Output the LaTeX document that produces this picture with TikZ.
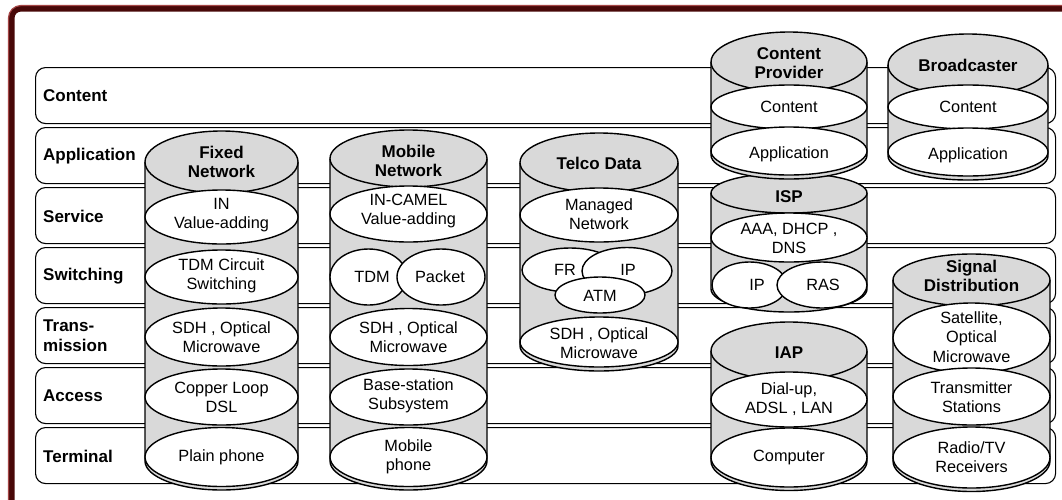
\documentclass[tikz,border=0pt]{standalone}
\usepackage{fontspec}
\setmainfont{Liberation Sans}
\definecolor{framedark}{RGB}{72,8,8}
\definecolor{framelight}{RGB}{165,70,70}
\definecolor{cylgray}{RGB}{217,217,217}
\newcommand\cylbody[6]{%
  \path[fill=cylgray, draw=black, line width=1.4pt] (#1-#2,#3) -- (#1-#2,#5) arc[start angle=180,end angle=0,x radius=#2,y radius=#6] -- (#1+#2,#3);
  \path[fill=cylgray, draw=black, line width=1.4pt] (#1,#3) ellipse[x radius=#2, y radius=#4];
}
\newcommand\wel[4]{\path[fill=white, draw=black, line width=1.4pt] (#1,#2) ellipse[x radius=#3, y radius=#4];}
\begin{document}
\begin{tikzpicture}[x=1pt,y=-1pt,
  layer/.style={draw=black, line width=1.1pt, fill=white, rounded corners=10pt, minimum width=1020pt, minimum height=56pt, anchor=north west, inner sep=0pt},
  rowlabel/.style={anchor=west, font=\fontsize{17}{20}\selectfont\bfseries, align=left, inner sep=0pt},
  ttl/.style={font=\fontsize{17}{19.5}\selectfont\bfseries, align=center, inner sep=0pt},
  itm/.style={font=\fontsize{16.3}{19}\selectfont, align=center, inner sep=0pt},
]
\useasboundingbox (0,0) rectangle (1062,499);
\fill[white] (0,0) rectangle (1062,499);
% frame
\draw[framedark, line width=6pt] (11.5,510) -- (11.5,18) arc[start angle=180, end angle=270, radius=9.5] -- (1075,8.5);
\draw[framelight, line width=1.2pt] (8.5,510) -- (8.5,18) arc[start angle=180, end angle=270, radius=12.5] -- (1075,5.5);
% layers
\node[layer] (rowA) at (35,67) {};
\node[layer] (rowB) at (35,127) {};
\node[layer] (rowC) at (35,187) {};
\node[layer] (rowD) at (35,247) {};
\node[layer] (rowE) at (35,307) {};
\node[layer] (rowF) at (35,367) {};
\node[layer] (rowG) at (35,427) {};
\node[rowlabel] (labA) at (43,96) {Content};
\node[rowlabel] (labB) at (43,156) {Application};
\node[rowlabel] (labC) at (43,216) {Service};
\node[rowlabel] (labD) at (43,276) {Switching};
\node[rowlabel] (labE) at (43,336) {Trans-\\mission};
\node[rowlabel] (labF) at (43,396) {Access};
\node[rowlabel] (labG) at (43,456) {Terminal};
% Fixed network
\cylbody{221.5}{76.5}{162}{31}{461}{29}
\wel{221.5}{217}{76.5}{27}
\wel{221.5}{277}{76.5}{27}
\wel{221.5}{337}{76.5}{29}
\wel{221.5}{397}{76.5}{28}
\wel{221.5}{457}{76.5}{29.5}
\node[ttl] (fixT) at (221.5,162) {Fixed\\Network};
\node[itm] (fix1) at (221.5,215) {IN\\Value-adding};
\node[itm] (fix2) at (221.5,276) {TDM Circuit\\Switching};
\node[itm] (fix3) at (221.5,337) {SDH , Optical\\Microwave};
\node[itm] (fix4) at (221.5,397) {Copper Loop\\DSL};
\node[itm] (fix5) at (221.5,457) {Plain phone};
% Mobile network
\cylbody{408.5}{78.5}{158.5}{28.5}{461}{29}
\wel{408.5}{214}{78.5}{28}
\wel{368.5}{277}{38.5}{28}
\wel{441}{277}{44}{28}
\wel{408.5}{337}{78.5}{28.5}
\wel{408.5}{397}{78.5}{28}
\wel{408.5}{457}{78.5}{29.5}
\node[ttl] (mobT) at (408.5,161) {Mobile\\Network};
\node[itm] (mob1) at (408.5,211) {IN-CAMEL\\Value-adding};
\node[itm] (mob2a) at (372,277) {TDM};
\node[itm] (mob2b) at (440,277) {Packet};
\node[itm] (mob3) at (408.5,337) {SDH , Optical\\Microwave};
\node[itm] (mob4) at (408.5,396) {Base-station\\Subsystem};
\node[itm] (mob5) at (408.5,457) {Mobile\\phone};
% Telco data
\cylbody{599}{79}{162.5}{29.5}{346}{25}
\wel{599}{215}{79}{27}
\wel{570}{270}{48}{22}
\wel{627}{271}{45}{23.5}
\wel{600}{295}{45}{18}
\wel{599}{342}{79}{25}
\node[ttl] (telT) at (599,163) {Telco Data};
\node[itm] (tel1) at (599,214) {Managed\\Network};
\node[itm] (tel2a) at (565,270) {FR};
\node[itm] (tel2b) at (628,270) {IP};
\node[itm] (tel2c) at (600,296) {ATM};
\node[itm] (tel3) at (599,343) {SDH , Optical\\Microwave};
% ISP
\cylbody{789}{78}{193}{20}{289}{23}
\wel{789}{237.5}{78}{24.5}
\wel{749.5}{285}{37.5}{23}
\wel{822}{285}{45}{23}
\node[ttl] (ispT) at (789,197) {ISP};
\node[itm] (isp1) at (789,238) {AAA, DHCP ,\\DNS};
\node[itm] (isp2a) at (757,285) {IP};
\node[itm] (isp2b) at (823,285) {RAS};
% Content provider
\cylbody{789}{78}{62}{30}{155}{24}
\wel{789}{107}{78}{22}
\wel{789}{151}{78}{24}
\node[ttl] (cpT) at (789,63) {Content\\Provider};
\node[itm] (cp1) at (789,107) {Content};
\node[itm] (cp2) at (789,154) {Application};
% IAP
\cylbody{789}{78}{351}{29}{461}{29.5}
\wel{789}{399.5}{78}{27.5}
\wel{789}{457.5}{78}{29.5}
\node[ttl] (iapT) at (789,353) {IAP};
\node[itm] (iap1) at (789,399) {Dial-up,\\ADSL , LAN};
\node[itm] (iap2) at (789,457) {Computer};
% Broadcaster
\cylbody{968}{80}{65}{31}{156}{24}
\wel{968}{107}{80}{22}
\wel{968}{152}{80}{24}
\node[ttl] (brT) at (968,65) {Broadcaster};
\node[itm] (br1) at (968,107) {Content};
\node[itm] (br2) at (968,155) {Application};
% Signal distribution
\cylbody{971.5}{78.5}{280}{26}{461}{30.5}
\wel{971.5}{338}{78.5}{35}
\wel{971.5}{396.5}{78.5}{28.5}
\wel{971.5}{457.5}{78.5}{30.5}
\node[ttl] (sdT) at (971.5,276) {Signal\\Distribution};
\node[itm, font=\fontsize{16.3}{19.5}\selectfont] (sd1) at (971.5,337) {Satellite,\\Optical\\Microwave};
\node[itm] (sd2) at (971.5,397) {Transmitter\\Stations};
\node[itm] (sd3) at (971.5,457.5) {Radio/TV\\Receivers};
\end{tikzpicture}
\end{document}
